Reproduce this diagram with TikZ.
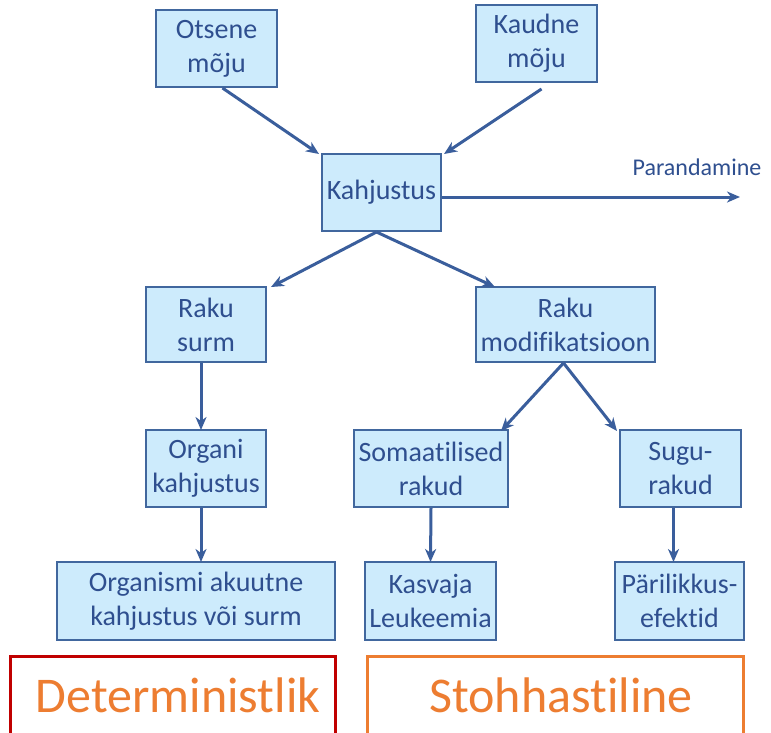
\documentclass[tikz,border=0pt]{standalone}
\usepackage{fontspec}
\setmainfont{Carlito}[Ligatures=NoCommon]
\usetikzlibrary{arrows.meta}
\definecolor{boxfill}{HTML}{CDEBFC}
\definecolor{boxdraw}{HTML}{41679E}
\definecolor{txt}{HTML}{2F4F8F}
\definecolor{arr}{HTML}{3A5E9C}
\definecolor{detred}{HTML}{C00000}
\definecolor{orng}{HTML}{ED7D31}
\tikzset{
  box/.style={draw=boxdraw, fill=boxfill, line width=2pt, inner sep=0pt, align=center,
    text=txt, font=\fontsize{28}{34}\selectfont},
  conn/.style={draw=arr, line width=3pt, -{Stealth[length=13pt,width=11pt,inset=4pt]}},
  bigbox/.style={line width=3pt},
  bigtext/.style={text=orng, font=\fontsize{50}{60}\selectfont, inner sep=0pt}
}
\begin{document}
\begin{tikzpicture}[x=1pt,y=-1pt]
\clip (0,0) rectangle (771,732);
\fill[white] (0,0) rectangle (771,732);
\node[box, minimum width=121, minimum height=77] (O) at (216.5,48.5) {Otsene\\mõju};
\node[box, minimum width=121, minimum height=77] (KM) at (536.5,43.5) {Kaudne\\mõju};
\node[box, minimum width=119, minimum height=77] (K) at (381.5,192.5) {Kahjustus};
\node[box, minimum width=120, minimum height=75] (RS) at (206,324.5) {Raku\\surm};
\node[box, minimum width=179, minimum height=75] (RM) at (565.5,324.5) {Raku\\modifikatsioon};
\node[box, minimum width=120, minimum height=77] (OK) at (206,468.5) {Organi\\kahjustus};
\node[box, minimum width=154, minimum height=77] (SR) at (431,468.5) {Somaatilised\\rakud};
\node[box, minimum width=121, minimum height=77] (SU) at (680.5,468.5) {Sugu-\\rakud};
\node[box, minimum width=278, minimum height=78] (OA) at (196,601) {Organismi akuutne\\kahjustus või surm};
\node[box, minimum width=131, minimum height=78] (KL) at (430.5,601) {Kasvaja\\Leukeemia};
\node[box, minimum width=129, minimum height=78] (PE) at (679.5,601) {Pärilikkus-\\efektid};
\node[text=txt, font=\fontsize{24}{28}\selectfont, inner sep=0pt] (PL) at (697,167) {Parandamine};
\coordinate (PEnd) at (740,197);
\draw[bigbox, draw=detred] (10,656) rectangle (335,770);
\draw[bigbox, draw=orng] (367,656) rectangle (743,770);
\node[bigtext] (DT) at (178,695) {Deterministlik};
\node[bigtext] (ST) at (561,695) {Stohhastiline};
\draw[conn] ([xshift=6pt]O.south) -- ([xshift=-2pt,yshift=-1pt]K.north west);
\draw[conn] ([xshift=5pt,yshift=-6pt]KM.south) -- ([xshift=2pt,yshift=-1pt]K.north east);
\draw[conn] (K.east |- PEnd) -- (PEnd);
\draw[conn] ([xshift=-5pt]K.south) -- ([xshift=4pt,yshift=-1pt]RS.north east);
\draw[conn] ([xshift=-5pt]K.south) -- ([xshift=20pt,yshift=-1pt]RM.north west);
\draw[conn] ([xshift=-2pt]RM.south) -- ([xshift=-8pt,yshift=-2pt]SR.north east);
\draw[conn] ([xshift=-2pt]RM.south) -- ([xshift=-2pt,yshift=-2pt]SU.north west);
\draw[conn] ([xshift=-5pt]RS.south) -- ([xshift=-5pt,yshift=-1pt]OK.north);
\draw[conn] ([xshift=-5pt]OK.south) -- ([xshift=5pt,yshift=-1pt]OA.north);
\draw[conn] (SR.south) -- ([yshift=-1pt]KL.north);
\draw[conn] ([xshift=-7pt]SU.south) -- ([xshift=-6pt,yshift=-1pt]PE.north);
\end{tikzpicture}
\end{document}
